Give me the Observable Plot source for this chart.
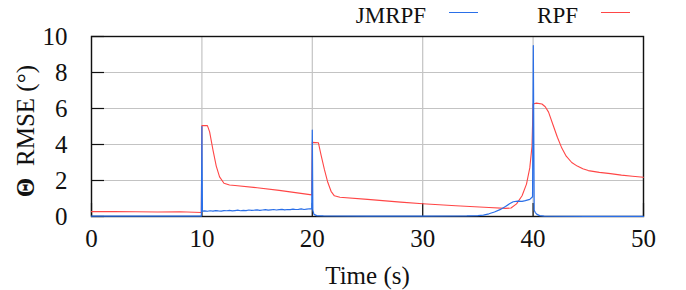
<!DOCTYPE html>
<html>
<head>
<meta charset="utf-8">
<script src="https://cdn.jsdelivr.net/npm/d3@7"></script>
<script src="https://cdn.jsdelivr.net/npm/@observablehq/plot@0.6"></script>
<style>
  html, body { margin: 0; padding: 0; background: #fff; }
  #wrap { position: relative; width: 686px; height: 290px; font-family: "Liberation Serif", "DejaVu Serif", serif; }
  #chart svg, #chart svg text { font-family: "Liberation Serif", "DejaVu Serif", serif !important; }
  #legend { position: absolute; top: 4px; left: 0; width: 686px; display: flex; justify-content: flex-end; align-items: center; padding-right: 56px; box-sizing: border-box; font-size: 23px; line-height: 23px; color: #111; }
  .item { display: flex; align-items: center; }
  .item + .item { margin-left: 59px; }
  .swatch { display: inline-block; width: 29px; height: 0; border-top: 1.3px solid; margin-left: 23px; margin-top: -6px; }
</style>
</head>
<body>
<div id="wrap">
  <div id="chart"></div>
  <div id="legend"></div>
</div>
<script>
// ---- data ----
const seriesNames = ["JMRPF", "RPF"];

const jmrpfTime = [0, 2, 4, 6, 8, 9.95, 10.0,
  10.05, 10.25, 10.5, 10.75, 11, 11.25, 11.5, 11.75, 12, 12.25, 12.5, 12.75, 13, 13.25, 13.5, 13.75,
  14, 14.25, 14.5, 14.75, 15, 15.25, 15.5, 15.75, 16, 16.25, 16.5, 16.75, 17, 17.25, 17.5, 17.75,
  18, 18.25, 18.5, 18.75, 19, 19.25, 19.5, 19.75, 19.95, 20.0,
  20.05, 20.15, 20.4, 21, 25, 30, 34, 35, 35.5, 36, 36.5, 37, 37.5, 37.9, 38.2, 38.6, 39, 39.3, 39.7, 39.95, 40.02,
  40.1, 40.2, 40.35, 40.6, 41, 45, 50];
const jmrpfRmse = [0.02, 0.02, 0.02, 0.02, 0.02, 0.02, 5.0,
  0.30, 0.31, 0.29, 0.32, 0.30, 0.33, 0.31, 0.30, 0.33, 0.32, 0.34, 0.31, 0.33, 0.35, 0.32, 0.34,
  0.33, 0.36, 0.34, 0.35, 0.37, 0.34, 0.36, 0.38, 0.35, 0.37, 0.39, 0.36, 0.38, 0.40, 0.37, 0.39,
  0.38, 0.41, 0.39, 0.40, 0.42, 0.39, 0.41, 0.43, 0.42, 4.8,
  0.35, 0.12, 0.05, 0.03, 0.02, 0.02, 0.03, 0.05, 0.08, 0.15, 0.25, 0.38, 0.55, 0.72, 0.82, 0.85, 0.84, 0.88, 0.95, 1.1, 9.5,
  0.35, 0.22, 0.12, 0.05, 0.02, 0.01, 0.01];

const rpfTime = [0, 2, 4, 6, 8, 9.95, 10.0, 10.5, 10.7, 11, 11.3, 11.6, 12, 12.5, 13, 15, 17, 19.95,
  20.0, 20.55, 20.8, 21.1, 21.4, 21.7, 22, 22.5, 25, 28, 30, 33, 36, 37.5, 38, 38.5, 39, 39.4, 39.7, 39.9,
  40.0, 40.3, 40.8, 41.1, 41.4, 41.8, 42.2, 42.6, 43, 43.5, 44, 44.5, 45, 46, 47, 48, 49, 50];
const rpfRmse = [0.27, 0.28, 0.26, 0.25, 0.26, 0.22, 5.05, 5.05, 4.7, 3.7, 2.8, 2.2, 1.85, 1.75, 1.72, 1.6, 1.45, 1.2,
  4.12, 4.1, 3.4, 2.6, 1.9, 1.4, 1.15, 1.07, 0.95, 0.8, 0.71, 0.6, 0.5, 0.45, 0.47, 0.7, 1.15, 1.8, 2.7, 3.9,
  6.25, 6.3, 6.25, 6.1, 5.8, 5.1, 4.4, 3.8, 3.35, 3.0, 2.8, 2.65, 2.55, 2.45, 2.38, 2.3, 2.24, 2.18];

const xTicks = [0, 10, 20, 30, 40, 50];
const yTicks = [0, 2, 4, 6, 8, 10];
const xLabel = "Time (s)";
const yLabelSymbol = "Θ";
const yLabelText = "RMSE (°)";

// ---- styles ----
const colors = { JMRPF: "#2a6fe8", RPF: "#ff4646" };

const jm = jmrpfTime.map((t, i) => ({ t, v: jmrpfRmse[i] }));
const rp = rpfTime.map((t, i) => ({ t, v: rpfRmse[i] }));

const chart = Plot.plot({
  width: 686,
  height: 290,
  marginLeft: 91,
  marginRight: 43,
  marginTop: 36,
  marginBottom: 74,
  style: { fontSize: "25px", background: "white", color: "#111", overflow: "visible" },
  x: { domain: [0, 50] },
  y: { domain: [0, 10] },
  marks: [
    Plot.gridX(xTicks, { stroke: "#c3c3c3", strokeOpacity: 1, strokeWidth: 1.2 }),
    Plot.gridY(yTicks, { stroke: "#c3c3c3", strokeOpacity: 1, strokeWidth: 1.2 }),
    Plot.axisX(xTicks, { tickSize: -13, fill: "none", label: null, stroke: "#111", strokeWidth: 1.2 }),
    Plot.axisY(yTicks, { tickSize: -13, fill: "none", label: null, stroke: "#111", strokeWidth: 1.2 }),
    Plot.axisX(xTicks, { tickSize: 0, tickPadding: 13, label: null, fill: "#111" }),
    Plot.axisY(yTicks, { tickSize: 0, tickPadding: 24, label: null, fill: "#111" }),
    Plot.frame({ stroke: "#111", strokeWidth: 1.4 }),
    Plot.line(rp, { x: "t", y: "v", stroke: colors.RPF, strokeWidth: 1.1 }),
    Plot.line(jm, { x: "t", y: "v", stroke: colors.JMRPF, strokeWidth: 1.2 }),
    Plot.text([xLabel], { frameAnchor: "bottom", dy: 59, lineAnchor: "middle", textAnchor: "middle", fontSize: 25, fill: "#111" }),
    Plot.text([yLabelSymbol], { frameAnchor: "left", dx: -66, dy: 61, rotate: -90, textAnchor: "middle", lineAnchor: "middle", fontSize: 25, fontWeight: "bold", fill: "#111" }),
    Plot.text([yLabelText], { frameAnchor: "left", dx: -66, dy: -11, rotate: -90, textAnchor: "middle", lineAnchor: "middle", fontSize: 25, fill: "#111" })
  ]
});
document.getElementById("chart").appendChild(chart);

const legend = document.getElementById("legend");
for (const name of seriesNames) {
  const item = document.createElement("div");
  item.className = "item";
  const label = document.createElement("span");
  label.textContent = name;
  const sw = document.createElement("span");
  sw.className = "swatch";
  sw.style.borderTopColor = colors[name];
  item.appendChild(label);
  item.appendChild(sw);
  legend.appendChild(item);
}
</script>
</body>
</html>
